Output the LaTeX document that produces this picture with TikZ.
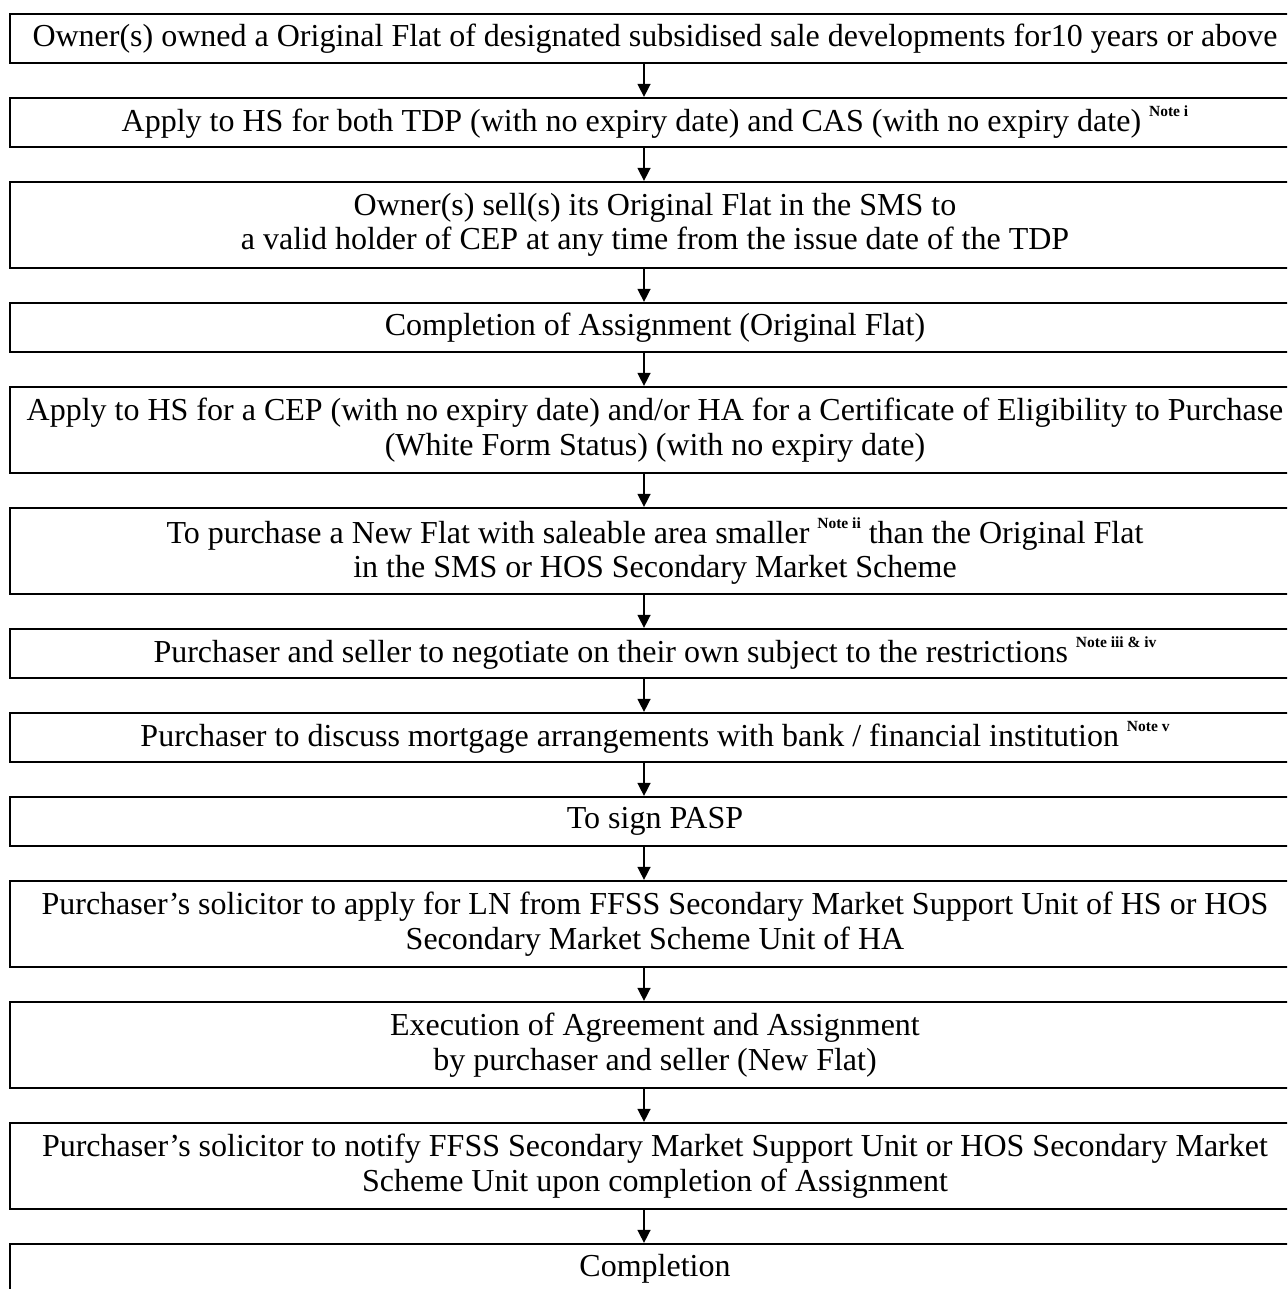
\documentclass[tikz,border=0pt]{standalone}
\usepackage{fontspec}
\setmainfont{Liberation Serif}
\usetikzlibrary{positioning,arrows.meta}

\def\BoxW{1290}
\def\OneLine{49}
\def\TwoLine{86}
\newcommand{\nota}[1]{\raisebox{0.47em}{\fontsize{15.5}{15.5}\selectfont\bfseries #1}}

\begin{document}
\begin{tikzpicture}[x=1pt,y=1pt,
    node distance=32.75pt,
    caja/.style={draw, line width=2.25pt, minimum width=\BoxW pt,
      minimum height=\OneLine pt, align=center, inner sep=0pt,
      font=\fontsize{32}{34.5}\selectfont},
    doble/.style={caja, minimum height=\TwoLine pt},
    flecha/.style={line width=1.5pt, -{Triangle[length=13pt,width=13pt]}}]
  \useasboundingbox (0,0) rectangle (1287,-1289);
  \clip (0,0) rectangle (1287,-1289);
  % --- Cajas ---
  \node[caja] (c1) at (655,-38.5)
    {Owner(s) owned a Original Flat of designated subsidised sale developments for10 years or above};
  \node[caja, below=of c1] (c2)
    {Apply to HS for both TDP (with no expiry date) and CAS (with no expiry date) \nota{Note i}};
  \node[doble, below=of c2] (c3)
    {Owner(s) sell(s) its Original Flat in the SMS to\\a valid holder of CEP at any time from the issue date of the TDP};
  \node[caja, below=of c3] (c4)
    {Completion of Assignment (Original Flat)};
  \node[doble, below=of c4] (c5)
    {Apply to HS for a CEP (with no expiry date) and/or HA for a Certificate of Eligibility to Purchase\\(White Form Status) (with no expiry date)};
  \node[doble, below=of c5] (c6)
    {To purchase a New Flat with saleable area smaller \nota{Note ii} than the Original Flat\\in the SMS or HOS Secondary Market Scheme};
  \node[caja, below=of c6] (c7)
    {Purchaser and seller to negotiate on their own subject to the restrictions \nota{Note iii \& iv}};
  \node[caja, below=of c7] (c8)
    {Purchaser to discuss mortgage arrangements with bank / financial institution \nota{Note v}};
  \node[caja, below=of c8] (c9)
    {To sign PASP};
  \node[doble, below=of c9] (c10)
    {Purchaser’s solicitor to apply for LN from FFSS Secondary Market Support Unit of HS or HOS\\Secondary Market Scheme Unit of HA};
  \node[doble, below=of c10] (c11)
    {Execution of Agreement and Assignment\\by purchaser and seller (New Flat)};
  \node[doble, below=of c11] (c12)
    {Purchaser’s solicitor to notify FFSS Secondary Market Support Unit or HOS Secondary Market\\Scheme Unit upon completion of Assignment};
  \node[caja, below=of c12] (c13)
    {Completion};
  % --- Flechas ---
  \coordinate (eje) at (644,0);
  \foreach \a/\b in {c1/c2,c2/c3,c3/c4,c4/c5,c5/c6,c6/c7,c7/c8,c8/c9,c9/c10,c10/c11,c11/c12,c12/c13}
  {
    \draw[flecha] (\a.south -| eje) -- (\b.north -| eje);
  }
\end{tikzpicture}
\end{document}
